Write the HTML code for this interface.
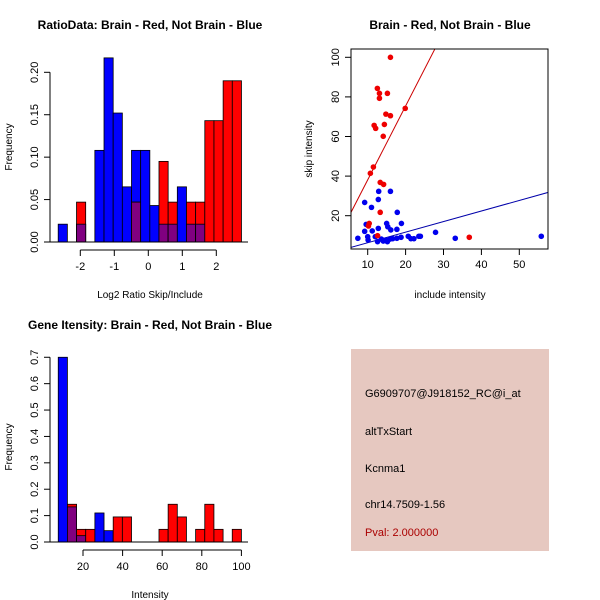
<!DOCTYPE html>
<html><head><meta charset="utf-8"><style>
body{margin:0;background:#fff}
svg{display:block;font-family:"Liberation Sans",sans-serif}
</style></head><body>
<svg id="c" width="600" height="600" xmlns="http://www.w3.org/2000/svg">
<rect width="600" height="600" fill="#fff"/>
</svg>
<script>
// ---- Panel 1: ratio histogram ----
const ratioBinCount = 20;
const ratioRange = [-2.65, 2.74];
const ratioBlue = [0.021,0,0.021,0,0.108,0.217,0.152,0.065,0.108,0.108,0.043,0.021,0.021,0.065,0.021,0.021,0,0,0,0];
const ratioRed  = [0,0,0.047,0,0,0,0,0,0.047,0,0,0.095,0.047,0,0.047,0.047,0.143,0.143,0.19,0.19];
const ratioXTicks = [-2,-1,0,1,2];
const ratioYTicks = ["0.00","0.05","0.10","0.15","0.20"];
// ---- Panel 2: scatter ----
const redX = [16.0,12.55,13.1,13.1,15.2,14.8,16.0,19.9,11.7,12.1,14.4,14.1,11.5,10.7,13.3,14.2,13.3,10.4,10.2,36.8,12.6];
const redY = [100,84.3,81.8,79.3,81.8,71.3,70.5,74.2,65.6,64.1,66.1,60.1,44.6,41.4,36.8,35.8,21.7,16.1,14.8,9.1,9.9];
const blueX = [7.4,9.2,9.6,9.2,10,10.1,11.0,11.2,12.9,12.8,12.8,12.6,13.6,14.1,14.8,15.2,15.0,15.3,16.0,16.1,16.6,17.7,17.8,17.7,18.8,18.9,20.7,21.4,22.2,23.5,23.9,27.9,33.1,55.8,12.0,15.9];
const blueY = [8.6,26.7,15.6,12.1,9.4,7.7,24.2,12.3,32.3,28.2,13.6,6.9,8.2,7.2,7.7,6.9,16.1,14.4,32.3,12.8,8.4,13.1,21.7,8.6,9.1,16.1,9.6,8.4,8.4,9.6,9.6,11.6,8.6,9.6,9.4,8.2];
const redFit = [0.8, 3.73];
const blueFit = [1.0, 0.534];
const scXTicks = [10,20,30,40,50];
const scYTicks = [20,40,60,80,100];
// ---- Panel 3: intensity histogram ----
const intRange = [7.5, 100];
const intBlue = [0.70,0.133,0.024,0,0.11,0.043,0,0,0,0,0,0,0,0,0,0,0,0,0,0];
const intRed  = [0,0.143,0.048,0.048,0,0,0.095,0.095,0,0,0,0.048,0.143,0.095,0,0.048,0.143,0.048,0,0.048];
const intXTicks = [20,40,60,80,100];
const intYTicks = ["0.0","0.1","0.2","0.3","0.4","0.5","0.6","0.7"];

const svg = document.getElementById('c');
const NS = 'http://www.w3.org/2000/svg';
function mk(tag, attrs, parent){
  const e = document.createElementNS(NS, tag);
  for (const k in attrs) e.setAttribute(k, attrs[k]);
  (parent||svg).appendChild(e);
  return e;
}
function txt(s, x, y, attrs, parent){
  const t = mk('text', Object.assign({x:x,y:y,'font-size':11,fill:'#000'}, attrs), parent);
  t.textContent = s;
  return t;
}

function histogram(name, g, blue, red, range, xs, ys, xTicks, yTicks, tickFmt){
  const n = blue.length, w = (range[1]-range[0])/n;
  for (let i=0;i<n;i++){
    const x0 = xs(range[0]+i*w), x1 = xs(range[0]+(i+1)*w);
    const b = blue[i], r = red[i], lo = Math.min(b,r);
    if (b>0){
      const e = mk('rect',{x:x0,y:ys(b),width:x1-x0,height:ys(0)-ys(b),fill:'#0000ff',stroke:'#000','stroke-width':0.8},g);
      
      
    }
    if (r>0){
      const e = mk('rect',{x:x0,y:ys(r),width:x1-x0,height:ys(0)-ys(r),fill:'#ff0000',stroke:'#000','stroke-width':0.8},g);
      
      
    }
    if (lo>0){
      const e = mk('rect',{x:x0,y:ys(lo),width:x1-x0,height:ys(0)-ys(lo),fill:'#800080',stroke:'#000','stroke-width':0.8},g);
      
      
    }
  }
  mk('line',{x1:50,x2:248,y1:ys(0),y2:ys(0),stroke:'#000'},g);
  // y axis
  const ya = mk('g',{},g);
  
  
  const yv = yTicks.map(Number);
  mk('line',{x1:50,x2:50,y1:ys(yv[0]),y2:ys(yv[yv.length-1]),stroke:'#000'},ya);
  yTicks.forEach(l=>{
    const y = ys(Number(l));
    mk('line',{x1:44,x2:50,y1:y,y2:y,stroke:'#000'},ya);
    txt(l,0,0,{transform:`translate(38,${y}) rotate(-90)`,'text-anchor':'middle'},ya);
  });
  const xa = mk('g',{},g);
  
  
  const yb = ys(0)+8;
  mk('line',{x1:xs(xTicks[0]),x2:xs(xTicks[xTicks.length-1]),y1:yb,y2:yb,stroke:'#000'},xa);
  xTicks.forEach(v=>{
    mk('line',{x1:xs(v),x2:xs(v),y1:yb,y2:yb+6,stroke:'#000'},xa);
    txt(String(v),xs(v),yb+20,{'text-anchor':'middle'},xa);
  });
}

// Panel 1
const g1 = mk('g',{});


const xs1 = v => 148.3 + 34*v;
const ys1 = v => 242 - 848.5*v;
histogram('ratio', g1, ratioBlue, ratioRed, ratioRange, xs1, ys1, ratioXTicks, ratioYTicks);
txt('RatioData: Brain - Red, Not Brain - Blue',150,29,{'text-anchor':'middle','font-weight':'bold','font-size':12},g1);
txt('Log2 Ratio Skip/Include',150,298,{'text-anchor':'middle','font-size':10},g1);
txt('Frequency',0,0,{transform:'translate(12,147) rotate(-90)','text-anchor':'middle','font-size':10},g1);

// Panel 2
const g2 = mk('g',{});


const xs2 = v => 367.7 + 3.79*(v-10);
const ys2 = v => 255.3 - 1.98*v;
const clip = mk('clipPath',{id:'cp'},g2);
mk('rect',{x:351,y:49,width:197,height:200},clip);
const lg = mk('g',{'clip-path':'url(#cp)'},g2);
[[redFit,'#cc0000','red-fit-line'],[blueFit,'#0000aa','blue-fit-line']].forEach(([f,c,n])=>{
  const l = mk('line',{x1:xs2(0),y1:ys2(f[0]),x2:xs2(70),y2:ys2(f[0]+f[1]*70),stroke:c,'stroke-width':1},lg);
  
  
});
blueX.forEach((x,i)=>{
  const p = mk('circle',{cx:xs2(x),cy:ys2(blueY[i]),r:2.8,fill:'#0000ee'},g2);
  
  
});
redX.forEach((x,i)=>{
  const p = mk('circle',{cx:xs2(x),cy:ys2(redY[i]),r:2.8,fill:'#ee0000'},g2);
  
  
});
mk('rect',{x:351,y:49,width:197,height:200,fill:'none',stroke:'#000'},g2);
scXTicks.forEach(v=>{
  mk('line',{x1:xs2(v),x2:xs2(v),y1:249,y2:255,stroke:'#000'},g2);
  txt(String(v),xs2(v),268,{'text-anchor':'middle'},g2);
});
scYTicks.forEach(v=>{
  mk('line',{x1:345,x2:351,y1:ys2(v),y2:ys2(v),stroke:'#000'},g2);
  txt(String(v),0,0,{transform:`translate(339,${ys2(v)}) rotate(-90)`,'text-anchor':'middle'},g2);
});
txt('Brain - Red, Not Brain - Blue',450,29,{'text-anchor':'middle','font-weight':'bold','font-size':12},g2);
txt('include intensity',450,298,{'text-anchor':'middle','font-size':10},g2);
txt('skip intensity',0,0,{transform:'translate(312,149) rotate(-90)','text-anchor':'middle','font-size':10},g2);

// Panel 3
const g3 = mk('g',{});


const xs3 = v => 83 + 1.98*(v-20);
const ys3 = v => 542 - 263.9*v;
histogram('intensity', g3, intBlue, intRed, intRange, xs3, ys3, intXTicks, intYTicks);
txt('Gene Itensity: Brain - Red, Not Brain - Blue',150,329,{'text-anchor':'middle','font-weight':'bold','font-size':12},g3);
txt('Intensity',150,598,{'text-anchor':'middle','font-size':10},g3);
txt('Frequency',0,0,{transform:'translate(12,447) rotate(-90)','text-anchor':'middle','font-size':10},g3);

// Panel 4: info box
const g4 = mk('g',{});


mk('rect',{x:351,y:349,width:198,height:202,fill:'#e6c8c0'},g4);
const info = [['G6909707@J918152_RC@i_at',397,'#000','probe-id'],['altTxStart',435,'#000','event-type'],['Kcnma1',472,'#000','gene-name'],['chr14.7509-1.56',508,'#000','location'],['Pval: 2.000000',536,'#aa0000','p-value']];
info.forEach(([s,y,c,n])=>{
  const t = txt(s,365,y,{fill:c,'font-size':11},g4);
  
  
});
</script>
</body></html>
